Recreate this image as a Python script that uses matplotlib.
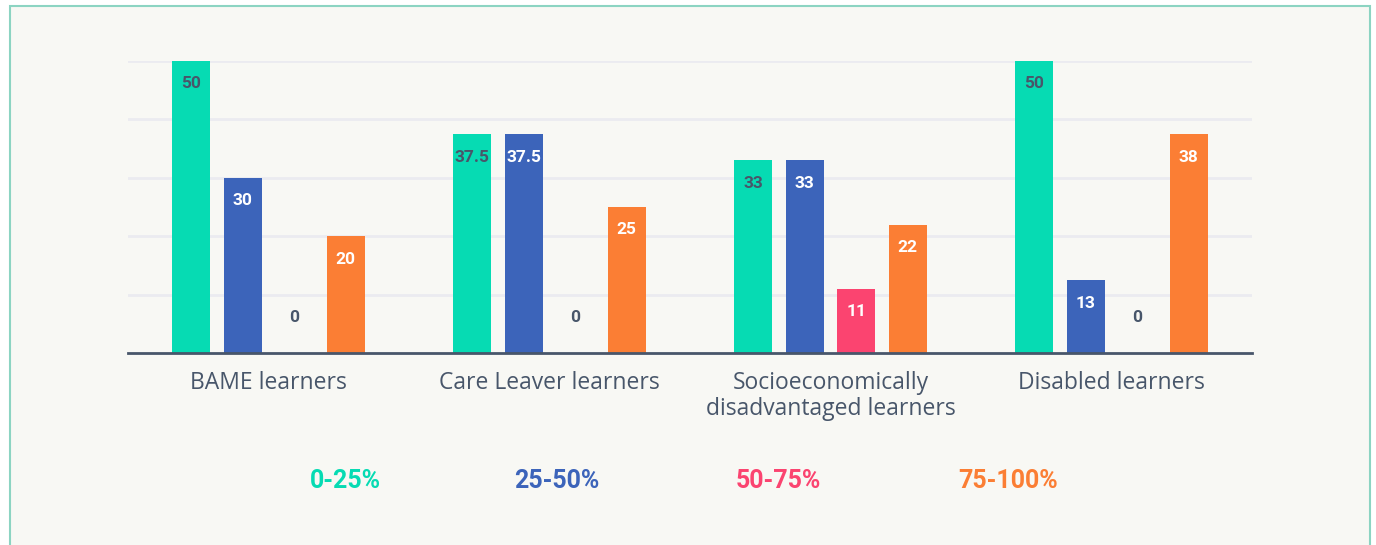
import matplotlib
matplotlib.use("Agg")
import matplotlib.pyplot as plt
from matplotlib.patches import Rectangle
from matplotlib.transforms import offset_copy
import numpy as np

categories = ["BAME learners", "Care Leaver learners",
              "Socioeconomically\ndisadvantaged learners", "Disabled learners"]
series_names = ["0-25%", "25-50%", "50-75%", "75-100%"]
values = {
    "0-25%":   [50, 37.5, 33, 50],
    "25-50%":  [30, 37.5, 33, 12.5],
    "50-75%":  [0, 0, 11, 0],
    "75-100%": [20, 25, 22, 37.5],
}
labels = {
    "0-25%":   ["50", "37.5", "33", "50"],
    "25-50%":  ["30", "37.5", "33", "13"],
    "50-75%":  ["0", "0", "11", "0"],
    "75-100%": ["20", "25", "22", "38"],
}
colors = ["#06DBB3", "#3C64BA", "#FB4470", "#FB7E34"]
label_colors = ["#48566A", "white", "white", "white"]
dark = "#48566A"
bg = "#F8F8F4"

W, H = 1376, 545
fig = plt.figure(figsize=(W / 100, H / 100), dpi=100, facecolor="white")
fig.patches.append(Rectangle((10 / W, -0.05), 1360 / W, 1.05 - 6 / H,
                             transform=fig.transFigure, facecolor=bg,
                             edgecolor="#8CD4C2", linewidth=1.5, zorder=-10))

ax = fig.add_axes([128 / W, 1 - 353 / H, 1124 / W, 292 / H])
ax.set_facecolor("none")
ax.set_zorder(5)
x = np.arange(len(categories))
stride = 51.5 / 281
width = 38 / 281
for i, name in enumerate(series_names):
    off = (i - 1.5) * stride
    vals = values[name]
    ax.bar(x + off, vals, width=width, color=colors[i], zorder=2)
    for j, v in enumerate(vals):
        if v == 0:
            tr = offset_copy(ax.transData, fig=fig, x=0, y=35, units="dots")
            col = dark
        else:
            tr = offset_copy(ax.transData, fig=fig, x=0, y=-23, units="dots")
            col = label_colors[i]
        ax.text(x[j] + off, v, labels[name][j], transform=tr, ha="center",
                va="center", fontsize=12.5, fontweight="bold", color=col,
                family="Roboto", zorder=3)

ax.set_xlim(-0.5, len(categories) - 0.5)
ax.set_ylim(0, 50)
ax.set_yticks([10, 20, 30, 40, 50])
ax.yaxis.grid(True, color="#EBEBF0", linewidth=2, zorder=0)
ax.tick_params(axis="y", length=0, labelleft=False)
ax.tick_params(axis="x", length=0, pad=13)
ax.set_xticks(x)
ax.set_xticklabels(categories, fontsize=16.5, color=dark, family="Open Sans",
                   linespacing=1.1)
for s in ["top", "right", "left"]:
    ax.spines[s].set_visible(False)
ax.spines["bottom"].set_color(dark)
ax.spines["bottom"].set_linewidth(2)
ax.set_axisbelow(True)

legend_x = [345, 557, 778, 1008]
for name, c, lx in zip(series_names, colors, legend_x):
    fig.text(lx / W, 1 - 481 / H, name, ha="center", va="center", color=c,
             fontsize=18, fontweight="bold", family="Roboto", zorder=6)

fig.savefig("out.png", dpi=100, facecolor="white")
